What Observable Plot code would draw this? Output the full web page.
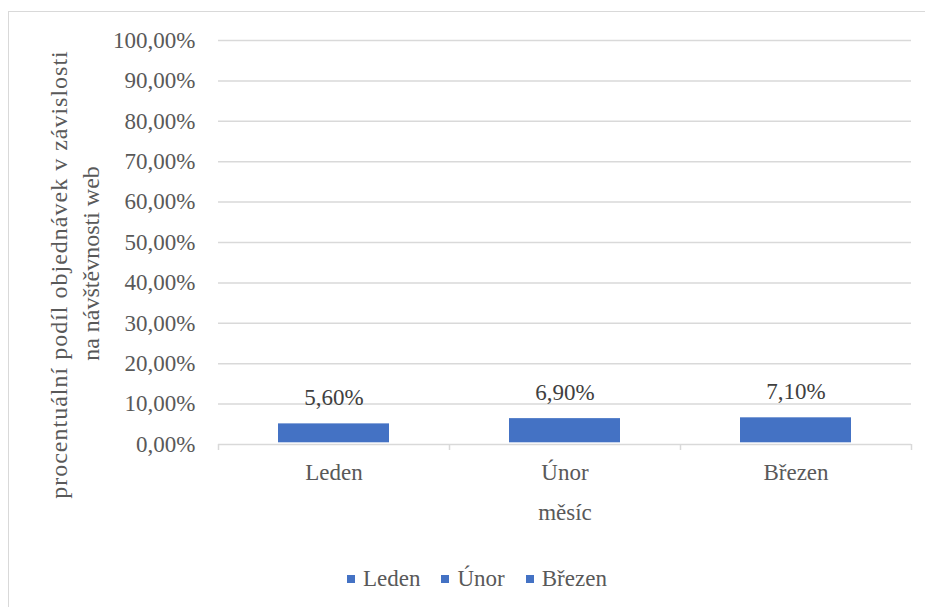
<!DOCTYPE html>
<html>
<head>
<meta charset="utf-8">
<script src="https://cdn.jsdelivr.net/npm/d3@7"></script>
<script src="https://cdn.jsdelivr.net/npm/@observablehq/plot@0.6"></script>
<style>
  html, body { margin: 0; padding: 0; background: #fff; }
  #wrap { position: relative; width: 925px; height: 607px; overflow: hidden; font-family: "Liberation Serif", "Times New Roman", serif; }
  #frame { position: absolute; left: 8px; top: 11px; width: 940px; height: 640px; border: 1.5px solid #d9d9d9; box-sizing: border-box; }
  #chart { position: absolute; left: 0; top: 0; }
  #legend { position: absolute; left: 347px; top: 567px; display: flex; align-items: center; font-size: 23px; line-height: 23px; color: #595959; }
  #legend .item { display: flex; align-items: center; margin-right: 21px; }
  #legend .sw { width: 8px; height: 8px; margin-right: 8px; }
</style>
</head>
<body>
<div id="wrap">
  <div id="frame"></div>
  <div id="chart"></div>
  <div id="legend"></div>
</div>
<script>
// ---- data ----
const months = ["Leden", "Únor", "Březen"];
const values = [5.6, 6.9, 7.1];           // percent
const yTicks = [0, 10, 20, 30, 40, 50, 60, 70, 80, 90, 100];
const xTitle = "měsíc";
const yTitleLines = ["procentuální podíl objednávek v závislosti", "na návštěvnosti web"];
const barColor = "#4472C4";

const data = months.map((m, i) => ({month: m, value: values[i]}));
const pct = d => d.toFixed(2).replace(".", ",") + "%";

const W = 925, H = 607;
const mL = 218, mR = 14, mT = 40, mB = 163;
const frameH = H - mT - mB;
const serif = "'Liberation Serif', 'Times New Roman', serif";

const chart = Plot.plot({
  width: W,
  height: H,
  marginLeft: mL,
  marginRight: mR,
  marginTop: mT,
  marginBottom: mB,
  style: {fontFamily: serif, fontSize: "23px", color: "#595959", background: "transparent", overflow: "visible"},
  x: {domain: months, paddingInner: 0.52, paddingOuter: 0.26, axis: null},
  y: {domain: [0, 100], axis: null},
  marks: [
    Plot.gridY(yTicks, {stroke: "#d9d9d9", strokeOpacity: 1, strokeWidth: 1.5}),
    // category boundary tick marks
    Plot.ruleX(months, {x: d => d, dx: -115.5, insetTop: frameH - 6, dy: 6, stroke: "#d9d9d9", strokeWidth: 1.5}),
    Plot.ruleX([months[months.length - 1]], {x: d => d, dx: 115.5, insetTop: frameH - 6, dy: 6, stroke: "#d9d9d9", strokeWidth: 1.5}),
    Plot.barY(data, {x: "month", y: "value", fill: barColor, insetTop: 2, insetBottom: 1.7}),
    Plot.text(data, {x: "month", y: "value", text: d => pct(d.value), dy: -24, lineAnchor: "middle", fill: "#404040", fontSize: 23, fontFamily: serif}),
    Plot.axisX({tickSize: 0, tickPadding: 19, label: null, fontSize: 23, fill: "#595959", fontFamily: serif}),
    Plot.axisY({ticks: yTicks, tickFormat: pct, tickSize: 0, tickPadding: 23, label: null, fontSize: 23, fill: "#595959", fontFamily: serif}),
    Plot.text([xTitle], {frameAnchor: "bottom", dy: 68, lineAnchor: "middle", fontSize: 23, fill: "#595959", fontFamily: serif}),
    Plot.text([yTitleLines[0]], {frameAnchor: "left", textAnchor: "middle", rotate: -90, dx: -152, dy: 32, lineAnchor: "bottom", fontSize: 24, fill: "#595959", fontFamily: serif}),
    Plot.text([yTitleLines[1]], {frameAnchor: "left", textAnchor: "middle", rotate: -90, dx: -120, dy: 21, lineAnchor: "bottom", fontSize: 24, fill: "#595959", fontFamily: serif})
  ]
});
// the first title line is set a little wider in the reference
d3.select(chart).selectAll("text")
  .filter(function() { return this.textContent === yTitleLines[0]; })
  .style("letter-spacing", "1px");
document.getElementById("chart").appendChild(chart);

const legend = document.getElementById("legend");
months.forEach(m => {
  const item = document.createElement("div");
  item.className = "item";
  const sw = document.createElement("div");
  sw.className = "sw";
  sw.style.background = barColor;
  const label = document.createElement("span");
  label.textContent = m;
  item.appendChild(sw);
  item.appendChild(label);
  legend.appendChild(item);
});
</script>
</body>
</html>
